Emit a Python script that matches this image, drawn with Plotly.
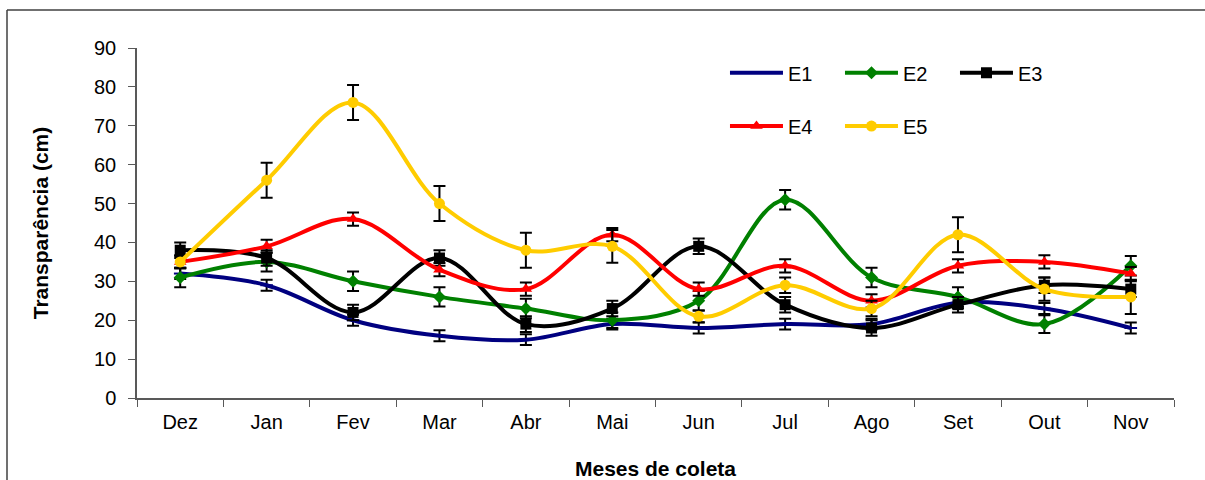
import plotly.graph_objects as go

months = ["Dez", "Jan", "Fev", "Mar", "Abr", "Mai", "Jun", "Jul", "Ago", "Set", "Out", "Nov"]

e1 = [32, 29, 20, 16, 15, 19, 18, 19, 19, 24.5, 23, 18]
e2 = [31, 35, 30, 26, 23, 20, 25, 51, 31, 26, 19, 34]
e3 = [38, 36, 22, 36, 19, 23, 39, 24, 18, 24, 29, 28]
e4 = [35, 39, 46, 33, 28, 42, 28, 34, 25, 34, 35, 32]
e5 = [35, 56, 76, 50, 38, 39, 21, 29, 23, 42, 28, 26]

e1_err = [1.4, 1.4, 1.4, 1.4, 1.4, 1.4, 1.4, 1.4, 1.4, 1.4, 1.4, 1.4]
e2_err = [2.5, 2.5, 2.5, 2.5, 2.5, 2.0, 2.5, 2.5, 2.5, 2.5, 2.3, 2.5]
e3_err = [2.0, 2.0, 2.0, 2.0, 2.0, 2.0, 2.0, 2.0, 2.0, 2.0, 2.0, 2.0]
e4_err = [1.7, 1.7, 1.7, 1.7, 1.7, 1.7, 1.7, 1.7, 1.7, 1.7, 1.7, 1.7]
e5_err = [1.5, 4.5, 4.5, 4.5, 4.5, 4.2, 1.5, 2.0, 2.0, 4.5, 3.0, 4.4]

series = [
    ("E1", e1, e1_err, "#000080", "line-ew", 9, "legend"),
    ("E2", e2, e2_err, "#008000", "diamond", 10, "legend"),
    ("E3", e3, e3_err, "#000000", "square", 11, "legend"),
    ("E4", e4, e4_err, "#FF0000", "triangle-up", 11, "legend2"),
    ("E5", e5, e5_err, "#FFCC00", "circle", 11, "legend2"),
]

FONT = "Liberation Sans, Arial, sans-serif"

fig = go.Figure()
for name, vals, errs, color, sym, size, leg in series:
    fig.add_trace(go.Scatter(
        x=months, y=vals, name=name, mode="lines+markers",
        line=dict(color=color, width=4, shape="spline", smoothing=1.0),
        marker=dict(symbol=sym, size=size, color=color,
                    line=dict(color=color, width=2 if sym == "line-ew" else 0)),
        error_y=dict(type="data", array=errs, visible=True,
                     color="#000000", thickness=2, width=6),
        legend=leg,
    ))

axis_line = "#595959"
legend_common = dict(orientation="h", xanchor="left", yanchor="middle",
                     entrywidth=47, entrywidthmode="pixels", itemwidth=53,
                     font=dict(family=FONT, size=20), bgcolor="rgba(0,0,0,0)")
fig.update_layout(
    width=1205, height=480,
    margin=dict(l=137, r=31, t=48, b=82),
    paper_bgcolor="white", plot_bgcolor="white",
    font=dict(family=FONT, size=20, color="#000000"),
    showlegend=True,
    legend=dict(x=0.567, y=0.929, **legend_common),
    legend2=dict(x=0.567, y=0.777, **legend_common),
    xaxis=dict(
        type="category", range=[-0.5, 11.5], automargin=False,
        showline=True, linecolor=axis_line, linewidth=1.5,
        ticks="outside", tickson="boundaries", ticklen=7, tickcolor=axis_line,
        showgrid=False, zeroline=False,
        tickfont=dict(family=FONT, size=20),
        ticklabelstandoff=5,
        title=dict(text="<b>Meses de coleta</b>", font=dict(family=FONT, size=21), standoff=37),
    ),
    yaxis=dict(
        range=[0, 90], dtick=10, automargin=False,
        showline=True, linecolor=axis_line, linewidth=1.5,
        ticks="outside", ticklen=7, tickcolor=axis_line,
        showgrid=False, zeroline=False,
        tickfont=dict(family=FONT, size=20),
        ticklabelstandoff=8,
        title=dict(text="<b>Transparência (cm)</b>", font=dict(family=FONT, size=21), standoff=40),
    ),
)

frame_x = (7 - 137) / 1037
frame_y = (398 - 10) / 350
fig.add_shape(type="line", xref="paper", yref="paper",
              x0=frame_x, x1=1.3, y0=frame_y, y1=frame_y,
              line=dict(color="#404040", width=1.5), layer="below")
fig.add_shape(type="line", xref="paper", yref="paper",
              x0=frame_x, x1=frame_x, y0=-0.6, y1=frame_y,
              line=dict(color="#404040", width=1.5), layer="below")

fig.write_html("out.html")
